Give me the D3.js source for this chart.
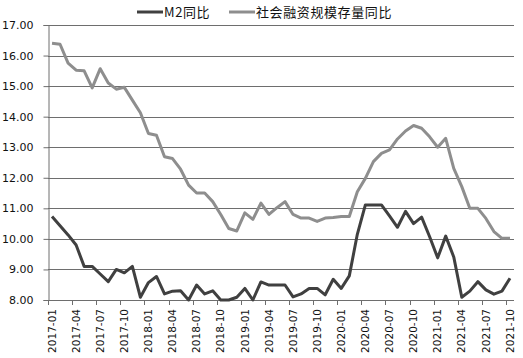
<!DOCTYPE html>
<html><head><meta charset="utf-8">
<script src="https://cdn.jsdelivr.net/npm/d3@7"></script>
<style>body{margin:0;background:#fff;} svg{display:block;}</style>
</head><body>
<svg id="c" width="523" height="358"></svg>
<script>
const months = [];
for (let yr = 2017; yr <= 2021; yr++) for (let m = 1; m <= 12; m++) { if (yr === 2021 && m > 10) break; months.push(yr + "-" + String(m).padStart(2, "0")); }
const m2 = [10.73,10.43,10.13,9.8,9.1,9.1,8.85,8.6,9.0,8.89,9.1,8.09,8.57,8.77,8.2,8.29,8.3,8.0,8.49,8.2,8.3,8.0,8.0,8.09,8.38,8.0,8.59,8.49,8.49,8.49,8.1,8.2,8.38,8.38,8.17,8.68,8.38,8.79,10.15,11.11,11.11,11.11,10.75,10.38,10.9,10.5,10.71,10.07,9.38,10.09,9.41,8.09,8.29,8.6,8.33,8.19,8.29,8.71];
const tsf = [16.4,16.37,15.75,15.52,15.5,14.94,15.57,15.1,14.9,14.96,14.54,14.13,13.45,13.39,12.69,12.63,12.28,11.76,11.5,11.5,11.22,10.8,10.34,10.26,10.85,10.64,11.17,10.8,11.02,11.22,10.8,10.68,10.68,10.57,10.68,10.7,10.73,10.73,11.54,11.98,12.53,12.8,12.91,13.27,13.53,13.71,13.62,13.34,13.0,13.29,12.31,11.71,11.0,11.0,10.67,10.24,10.02,10.02];
const yTicks = [8,9,10,11,12,13,14,15,16,17];
const seriesNames = ["M2同比", "社会融资规模存量同比"];
const colors = ["#404040", "#8e8e8e"];

const svg = d3.select("#c");
const pL = 48, pR = 514, pT = 25, pB = 300;
const x = d3.scaleBand().domain(months).range([pL, pR]).padding(0);
const y = d3.scaleLinear().domain([8, 17]).range([pB, pT]);
const font = "'DejaVu Sans', Verdana, sans-serif";
const gridC = "#6e6e6e";

svg.append("g").selectAll("line").data(yTicks).join("line")
  .attr("x1", pL).attr("x2", pR)
  .attr("y1", d => Math.round(y(d)) + 0.5).attr("y2", d => Math.round(y(d)) + 0.5)
  .attr("stroke", gridC).attr("stroke-width", 1);

const yAxis = svg.append("g").attr("transform", `translate(${pL + 0.5},0)`)
  .call(d3.axisLeft(y).tickValues(yTicks).tickFormat(d3.format(".2f")).tickSize(5).tickPadding(10));
yAxis.select(".domain").attr("stroke", gridC);
yAxis.selectAll(".tick line").attr("stroke", gridC);
yAxis.selectAll("text").attr("font-family", font).attr("font-size", "11px").attr("fill", "#111");

const bw = x.bandwidth();
const tickIdx = months.map((d, i) => i).filter(i => i % 3 === 0);
const xg = svg.append("g");
xg.append("line").attr("x1", pL).attr("x2", pR).attr("y1", pB + 0.5).attr("y2", pB + 0.5).attr("stroke", gridC);
xg.selectAll("line.t").data(tickIdx).join("line").attr("class", "t")
  .attr("x1", i => Math.round(x(months[i])) + 0.5).attr("x2", i => Math.round(x(months[i])) + 0.5)
  .attr("y1", pB).attr("y2", pB + 5).attr("stroke", gridC);
xg.selectAll("text").data(tickIdx).join("text")
  .attr("transform", i => `translate(${x(months[i]) + bw / 2},${pB + 9}) rotate(-90)`)
  .attr("text-anchor", "end").attr("dy", "0.35em")
  .attr("font-family", font).attr("font-size", "10.5px").attr("fill", "#111")
  .text(i => months[i]);

const line = d3.line().x((d, i) => x(months[i]) + bw / 2).y(d => y(d));
[m2, tsf].forEach((s, k) => {
  svg.append("path").datum(s).attr("d", line).attr("fill", "none")
    .attr("stroke", colors[k]).attr("stroke-width", 3).attr("stroke-linejoin", "round");
});

const leg = [{x: 137, name: seriesNames[0], c: colors[0]}, {x: 229, name: seriesNames[1], c: colors[1]}];
leg.forEach(l => {
  svg.append("line").attr("x1", l.x).attr("x2", l.x + 26).attr("y1", 12).attr("y2", 12)
    .attr("stroke", l.c).attr("stroke-width", 3);
  svg.append("text").attr("x", l.x + 27).attr("y", 12).attr("dy", "0.36em")
    .attr("font-family", "'Noto Sans CJK SC', 'DejaVu Sans', sans-serif").attr("font-size", "13px")
    .attr("letter-spacing", "0.6px").attr("fill", "#111")
    .text(l.name);
});
</script>
</body></html>
